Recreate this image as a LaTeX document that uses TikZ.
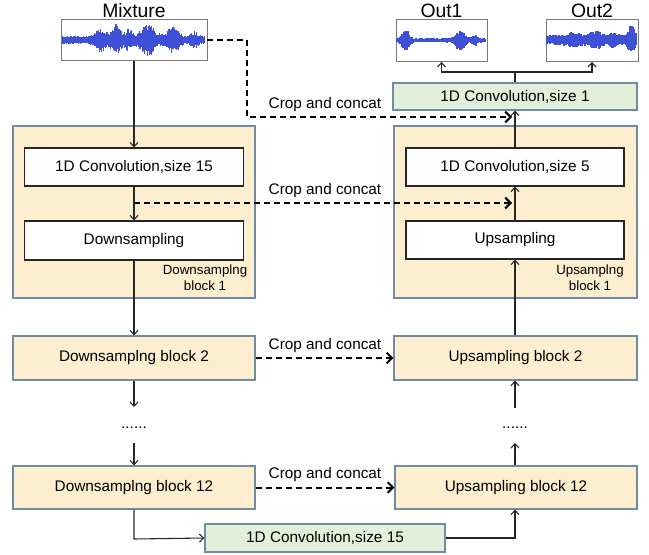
\documentclass[tikz,border=0pt]{standalone}
\usepackage{fontspec}
\setmainfont{Liberation Sans}
\usetikzlibrary{arrows.meta}
\definecolor{blkfill}{RGB}{252,238,206}
\definecolor{blkdraw}{RGB}{112,140,165}
\definecolor{grnfill}{RGB}{226,239,217}
\definecolor{wavecol}{RGB}{62,80,214}
\definecolor{wavebox}{RGB}{120,120,120}
\tikzset{
  bigblk/.style={draw=blkdraw, fill=blkfill, line width=0.9pt, inner sep=0pt},
  whitebox/.style={draw=black!85, fill=white, line width=0.8pt, inner sep=0pt, font=\fontsize{11.5}{13}\selectfont},
  yelbox/.style={draw=blkdraw, fill=blkfill, line width=0.9pt, inner sep=0pt, font=\fontsize{11.5}{13}\selectfont},
  grnbox/.style={draw=blkdraw, fill=grnfill, line width=0.9pt, inner sep=0pt, font=\fontsize{11.5}{13}\selectfont},
  wbox/.style={draw=wavebox, fill=white, line width=0.7pt, inner sep=0pt},
  title/.style={font=\fontsize{14.5}{16}\selectfont},
  crop/.style={font=\fontsize{11.5}{13}\selectfont},
  small/.style={font=\fontsize{10}{12}\selectfont, align=center, inner sep=0pt},
  flow/.style={draw=black!85, line width=0.8pt, -{Straight Barb[length=3.2pt,width=6pt,line width=0.8pt]}},
  plain/.style={draw=black!85, line width=0.8pt},
  skip/.style={draw=black, line width=1.5pt, dash pattern=on 4.5pt off 3pt, -{Straight Barb[length=4pt,width=8pt,line width=1.5pt]}},
  wave/.style={draw=wavecol, line width=0.8pt},
}
\begin{document}
\begin{tikzpicture}[x=0.75pt,y=-0.75pt]
\useasboundingbox (0,0) rectangle (649,554);

% big blocks
\node[bigblk, minimum width=0.75pt*242, minimum height=0.75pt*172] (lblk) at (134,212) {};
\node[bigblk, minimum width=0.75pt*243, minimum height=0.75pt*172] (rblk) at (515.5,212) {};

% wave boxes
\node[wbox, minimum width=0.75pt*146, minimum height=0.75pt*41] (mix) at (134,40) {};
\node[wbox, minimum width=0.75pt*91, minimum height=0.75pt*42] (out1) at (441.5,40.5) {};
\node[wbox, minimum width=0.75pt*92, minimum height=0.75pt*42] (out2) at (592,40.5) {};
\node[title] (mixl) at (134,11) {Mixture};
\node[title] (o1l) at (441.5,11) {Out1};
\node[title] (o2l) at (592,11) {Out2};

% waveforms
\pgfmathsetseed{11}
\foreach \i in {0,...,142}{
  \pgfmathsetmacro\t{\i/142}
  \pgfmathsetmacro\e{4.5+8*exp(-((\t-0.27)/0.05)^2)+12*exp(-((\t-0.38)/0.04)^2)+7*exp(-((\t-0.47)/0.03)^2)+13*exp(-((\t-0.6)/0.06)^2)+10*exp(-((\t-0.78)/0.05)^2)+5*exp(-((\t-0.93)/0.03)^2)}
  \pgfmathsetmacro\u{\e*(0.55+0.45*rnd)}
  \pgfmathsetmacro\d{\e*(0.55+0.45*rnd)}
  \draw[wave] (62.5+\i,40-\u) -- (62.5+\i,40+\d);
}
\foreach \i in {0,...,88}{
  \pgfmathsetmacro\t{\i/88}
  \pgfmathsetmacro\e{2.5+11*exp(-((\t-0.1)/0.05)^2)+10*exp(-((\t-0.72)/0.06)^2)+4*exp(-((\t-0.88)/0.04)^2)}
  \pgfmathsetmacro\u{\e*(0.45+0.4*rnd)}
  \pgfmathsetmacro\d{\e*(0.6+0.4*rnd)}
  \draw[wave] (397+\i,40-\u) -- (397+\i,40+\d);
}
\foreach \i in {0,...,89}{
  \pgfmathsetmacro\t{\i/89}
  \pgfmathsetmacro\e{5.5+3*exp(-((\t-0.3)/0.08)^2)+4*exp(-((\t-0.55)/0.08)^2)+3*exp(-((\t-0.75)/0.05)^2)+11*exp(-((\t-0.95)/0.04)^2)}
  \pgfmathsetmacro\u{\e*(0.55+0.45*rnd)}
  \pgfmathsetmacro\d{\e*(0.55+0.45*rnd)}
  \draw[wave] (547+\i,40-\u) -- (547+\i,40+\d);
}

% inner boxes
\node[whitebox, minimum width=0.75pt*219, minimum height=0.75pt*38] (c15a) at (134,167) {1D Convolution,size 15};
\node[whitebox, minimum width=0.75pt*219, minimum height=0.75pt*39] (down) at (134,240.5) {Downsampling};
\node[whitebox, minimum width=0.75pt*218, minimum height=0.75pt*38] (c5) at (515,167) {1D Convolution,size 5};
\node[whitebox, minimum width=0.75pt*218, minimum height=0.75pt*38] (up) at (515,240) {Upsampling};
\node[small, anchor=north] (lbl1) at (205,265) {Downsamplng\\block 1};
\node[small, anchor=north] (lbl2) at (590,265) {Upsamplng\\block 1};

\node[grnbox, minimum width=0.75pt*244, minimum height=0.75pt*27] (c1) at (515,96.5) {1D Convolution,size 1};

\node[yelbox, minimum width=0.75pt*242, minimum height=0.75pt*44] (db2) at (134,358) {Downsamplng block 2};
\node[yelbox, minimum width=0.75pt*242, minimum height=0.75pt*43] (db12) at (134,487.5) {Downsamplng block 12};
\node[yelbox, minimum width=0.75pt*243, minimum height=0.75pt*44] (ub2) at (515.5,358) {Upsampling block 2};
\node[yelbox, minimum width=0.75pt*242, minimum height=0.75pt*43] (ub12) at (516,487.5) {Upsampling block 12};
\node[grnbox, minimum width=0.75pt*240, minimum height=0.75pt*28] (c15b) at (325,538) {1D Convolution,size 15};

\node[crop] (dl) at (134,428) {......};
\node[crop] (dr) at (515,428) {......};

% coordinates
\coordinate (k1) at (247,40);
\coordinate (k2) at (247,117);
\coordinate (e1) at (512,117);
\coordinate (s2) at (134,203);
\coordinate (e2) at (512,203);
\coordinate (dlb) at (134,407);
\coordinate (dlt) at (134,443);
\coordinate (drb) at (515,408);
\coordinate (drt) at (515,443);
\coordinate (bl) at (134,539);
\coordinate (br) at (515,538);
\coordinate (sp) at (515,72);
\coordinate (sp1) at (441.5,72);
\coordinate (sp2) at (592,72);

% solid flow
\draw[flow] (mix.south) -- (c15a.north);
\draw[flow] (c15a.south) -- (down.north);
\draw[flow] (down.south) -- (db2.north);
\draw[flow] (db2.south) -- (dlb);
\draw[flow] (dlt) -- (db12.north);
\draw[flow] (db12.south -| bl) -- (bl) -- (c15b.west);
\draw[flow] (c15b.east) -- (br) -- (ub12.south -| br);
\draw[flow] (ub12.north -| drt) -- (drt);
\draw[flow] (drb) -- (ub2.south -| drb);
\draw[flow] (ub2.north -| drb) -- (up.south);
\draw[flow] (up.north) -- (c5.south);
\draw[flow] (c5.north) -- (c1.south);
\draw[plain] (c1.north) -- (sp);
\draw[flow] (sp) -- (sp1) -- (out1.south);
\draw[flow] (sp) -- (sp2) -- (out2.south);

% skip connections
\draw[skip] (mix.east) -- (k1) -- (k2) -- (e1);
\draw[skip] (s2) -- (e2);
\draw[skip] (db2.east) -- (ub2.west);
\draw[skip] (db12.east) -- (ub12.west);

\node[crop] (cl1) at (325,105) {Crop and concat};
\node[crop] (cl2) at (325,191) {Crop and concat};
\node[crop] (cl3) at (325,346) {Crop and concat};
\node[crop] (cl4) at (325,475) {Crop and concat};
\end{tikzpicture}
\end{document}
